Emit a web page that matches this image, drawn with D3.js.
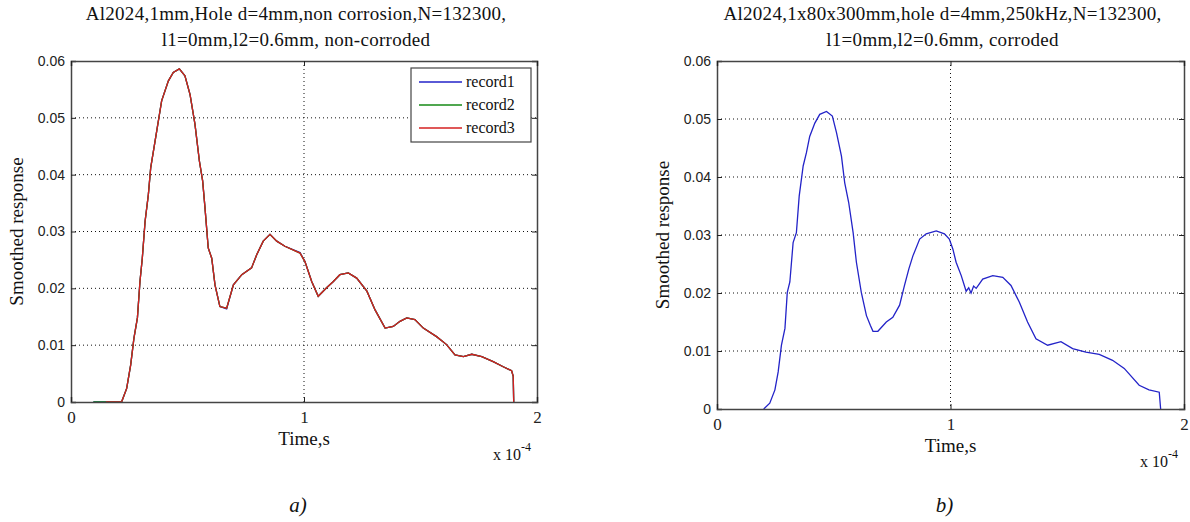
<!DOCTYPE html>
<html>
<head>
<meta charset="utf-8">
<script src="https://cdn.jsdelivr.net/npm/d3@7"></script>
<style>
  body { margin: 0; background: #fff; }
  svg { display: block; }
  .serif { font-family: "Liberation Serif", "Times New Roman", serif; fill: #111; }
  .ytick text { font-family: "Liberation Sans", Arial, sans-serif; font-size: 14px; fill: #222; }
  .xtick text { font-family: "Liberation Serif", serif; font-size: 17px; fill: #222; }
</style>
</head>
<body>
<div id="chart"></div>
<script>
// time axis in units of 1e-4 s
const yTicks = [0, 0.01, 0.02, 0.03, 0.04, 0.05, 0.06];
const xTicks = [0, 1, 2];
const recordNames = ["record1", "record2", "record3"];
const recordColours = ["#2323c8", "#168a16", "#d42020"];

// panel a) non-corroded, three records (practically on top of each other)
const timeA = [0.096, 0.15, 0.217, 0.239, 0.256, 0.27, 0.285, 0.296, 0.306, 0.318, 0.332, 0.342, 0.368, 0.389, 0.418, 0.439, 0.465, 0.489, 0.511, 0.532, 0.551, 0.565, 0.575, 0.589, 0.604, 0.618, 0.639, 0.668, 0.697, 0.733, 0.775, 0.797, 0.825, 0.854, 0.883, 0.918, 0.983, 1.004, 1.033, 1.061, 1.097, 1.126, 1.154, 1.19, 1.226, 1.27, 1.305, 1.348, 1.383, 1.412, 1.441, 1.476, 1.512, 1.569, 1.612, 1.648, 1.684, 1.72, 1.763, 1.812, 1.855, 1.891, 1.898, 1.9];
const record1 = [0, 0, 0, 0.0024, 0.0065, 0.0112, 0.0148, 0.0212, 0.0253, 0.0318, 0.0365, 0.0412, 0.0477, 0.053, 0.0565, 0.058, 0.0586, 0.0574, 0.0541, 0.0489, 0.0424, 0.0389, 0.0342, 0.0271, 0.0253, 0.0206, 0.0168, 0.0164, 0.0206, 0.0224, 0.0236, 0.0259, 0.0283, 0.0295, 0.0283, 0.0274, 0.0263, 0.0247, 0.0212, 0.0186, 0.0201, 0.0212, 0.0224, 0.0227, 0.0218, 0.0195, 0.0162, 0.013, 0.0133, 0.0142, 0.0148, 0.0145, 0.013, 0.0115, 0.0101, 0.0083, 0.008, 0.0084, 0.008, 0.0071, 0.0062, 0.0055, 0.0045, 0];
const record2 = [0, 0, 0, 0.0024, 0.0065, 0.0112, 0.0148, 0.0212, 0.0253, 0.0318, 0.0365, 0.0412, 0.0477, 0.053, 0.0565, 0.058, 0.0586, 0.0574, 0.0541, 0.0489, 0.0424, 0.0389, 0.0342, 0.0271, 0.0253, 0.0206, 0.0168, 0.0165, 0.0206, 0.0224, 0.0236, 0.0259, 0.0283, 0.0295, 0.0283, 0.0274, 0.0262, 0.0247, 0.0212, 0.0186, 0.0201, 0.0212, 0.0224, 0.0227, 0.0218, 0.0195, 0.0162, 0.013, 0.0133, 0.0142, 0.0148, 0.0145, 0.013, 0.0115, 0.0101, 0.0083, 0.008, 0.0084, 0.008, 0.0071, 0.0062, 0.0055, 0.0045, 0];
// record3 starts a little later than the other two
const record3 = [null, 0, 0, 0.0024, 0.0065, 0.0112, 0.0148, 0.0212, 0.0253, 0.0318, 0.0365, 0.0412, 0.0477, 0.053, 0.0565, 0.058, 0.0586, 0.0574, 0.0541, 0.0489, 0.0424, 0.0389, 0.0342, 0.0271, 0.0253, 0.0206, 0.0168, 0.0165, 0.0206, 0.0224, 0.0236, 0.0259, 0.0283, 0.0295, 0.0283, 0.0274, 0.0262, 0.0247, 0.0212, 0.0186, 0.0201, 0.0212, 0.0224, 0.0227, 0.0218, 0.0195, 0.0162, 0.013, 0.0133, 0.0142, 0.0148, 0.0145, 0.013, 0.0115, 0.0101, 0.0083, 0.008, 0.0084, 0.008, 0.0071, 0.0062, 0.0055, 0.0045, 0];

// panel b) corroded, one record
const timeB = [0.2, 0.226, 0.248, 0.262, 0.276, 0.291, 0.301, 0.312, 0.326, 0.34, 0.352, 0.369, 0.383, 0.397, 0.419, 0.44, 0.469, 0.494, 0.512, 0.533, 0.547, 0.564, 0.583, 0.597, 0.618, 0.64, 0.657, 0.668, 0.689, 0.725, 0.753, 0.782, 0.803, 0.822, 0.839, 0.868, 0.896, 0.939, 0.974, 0.995, 1.01, 1.024, 1.046, 1.067, 1.078, 1.088, 1.099, 1.11, 1.138, 1.181, 1.224, 1.259, 1.295, 1.33, 1.366, 1.416, 1.473, 1.523, 1.58, 1.637, 1.694, 1.744, 1.808, 1.85, 1.894, 1.9];
const corroded = [0, 0.001, 0.0033, 0.0064, 0.011, 0.0139, 0.0201, 0.0219, 0.0287, 0.0304, 0.0367, 0.0419, 0.0442, 0.047, 0.0493, 0.0508, 0.0513, 0.0505, 0.0476, 0.0436, 0.039, 0.0356, 0.0304, 0.0253, 0.0201, 0.0161, 0.0144, 0.0134, 0.0134, 0.015, 0.0158, 0.0179, 0.0213, 0.0242, 0.0264, 0.0293, 0.0302, 0.0307, 0.0302, 0.0293, 0.0276, 0.0253, 0.023, 0.0203, 0.0209, 0.02, 0.0212, 0.0208, 0.0224, 0.023, 0.0227, 0.0213, 0.0184, 0.015, 0.0121, 0.011, 0.0116, 0.0104, 0.0098, 0.0094, 0.0084, 0.007, 0.0041, 0.0033, 0.0029, 0];

const width = 1190, height = 522;
const svg = d3.select("#chart").append("svg")
    .attr("width", width)
    .attr("height", height);

// draws one MATLAB-style panel
function drawPanel(p) {
    const x = d3.scaleLinear().domain([0, 2]).range([p.left, p.right]);
    const y = d3.scaleLinear().domain([0, 0.06]).range([p.bottom, p.top]);
    const g = svg.append("g");

    // dotted grid
    g.selectAll(".gx").data(xTicks.slice(1, -1)).enter().append("line")
        .attr("x1", d => x(d)).attr("x2", d => x(d))
        .attr("y1", p.top).attr("y2", p.bottom)
        .attr("stroke", "#111").attr("stroke-width", 1).attr("stroke-dasharray", "1,3");
    g.selectAll(".gy").data(yTicks.slice(1, -1)).enter().append("line")
        .attr("x1", p.left).attr("x2", p.right)
        .attr("y1", d => y(d)).attr("y2", d => y(d))
        .attr("stroke", "#111").attr("stroke-width", 1).attr("stroke-dasharray", "1,3");

    // curves
    const line = d3.line()
        .defined(d => d[1] !== null)
        .x(d => x(d[0])).y(d => y(d[1]));
    p.series.forEach(s => {
        g.append("path")
            .datum(s.time.map((t, i) => [t, s.values[i]]))
            .attr("fill", "none")
            .attr("stroke", s.colour)
            .attr("stroke-width", 1.3)
            .attr("d", line);
    });

    // axes, ticks pointing inward on all four sides
    const yFmt = d => d === 0 ? "0" : d3.format(".2f")(d);
    g.append("g").attr("class", "ytick")
        .attr("transform", `translate(${p.left},0)`)
        .call(d3.axisLeft(y).tickValues(yTicks).tickSize(-5).tickPadding(6).tickFormat(yFmt));
    g.append("g")
        .attr("transform", `translate(${p.right},0)`)
        .call(d3.axisRight(y).tickValues(yTicks).tickSize(-5).tickFormat(""));
    g.append("g").attr("class", "xtick")
        .attr("transform", `translate(0,${p.bottom})`)
        .call(d3.axisBottom(x).tickValues(xTicks).tickSize(-5).tickPadding(9).tickFormat(d3.format("d")));
    g.append("g")
        .attr("transform", `translate(0,${p.top})`)
        .call(d3.axisTop(x).tickValues(xTicks).tickSize(-5).tickFormat(""));
    g.selectAll(".domain").attr("stroke", "#444").attr("stroke-width", 1.5);
    g.selectAll(".tick line").attr("stroke", "#222");

    const cx = (p.left + p.right) / 2;

    // title
    const title = g.append("text").attr("class", "serif")
        .attr("text-anchor", "middle").attr("font-size", 19).attr("letter-spacing", 0.3);
    title.append("tspan").attr("x", cx + p.titleShift).attr("y", 20).text(p.title[0]);
    title.append("tspan").attr("x", cx + p.titleShift).attr("y", 46).text(p.title[1]);

    // axis labels
    g.append("text").attr("class", "serif")
        .attr("x", cx).attr("y", p.bottom + 43)
        .attr("text-anchor", "middle").attr("font-size", 19)
        .text("Time,s");
    const exp = g.append("text").attr("class", "serif")
        .attr("x", p.right - 44).attr("y", p.bottom + 58)
        .attr("font-size", 16);
    exp.append("tspan").text("x 10");
    exp.append("tspan").attr("dy", -9).attr("font-size", 12).text("-4");

    g.append("text").attr("class", "serif")
        .attr("transform", `translate(${p.left - 48},${(p.top + p.bottom) / 2}) rotate(-90)`)
        .attr("text-anchor", "middle").attr("font-size", 19)
        .text("Smoothed response");

    // panel letter
    g.append("text").attr("class", "serif")
        .attr("x", cx - 6).attr("y", 512)
        .attr("text-anchor", "middle").attr("font-size", 21).attr("font-style", "italic")
        .text(p.letter);

    // legend
    if (p.legend) {
        const lx = p.right - 126, ly = p.top + 7;
        const lg = g.append("g").attr("transform", `translate(${lx},${ly})`);
        lg.append("rect").attr("width", 120).attr("height", 74)
            .attr("fill", "#fff").attr("stroke", "#444").attr("stroke-width", 1.2);
        p.series.forEach((s, i) => {
            const ry = 14 + i * 23;
            lg.append("line").attr("x1", 8).attr("x2", 51)
                .attr("y1", ry).attr("y2", ry)
                .attr("stroke", s.colour).attr("stroke-width", 1.3);
            lg.append("text").attr("class", "serif")
                .attr("x", 55).attr("y", ry + 5).attr("font-size", 16)
                .text(s.name);
        });
    }
}

drawPanel({
    left: 71, right: 537, top: 61, bottom: 402,
    titleShift: -8,
    title: ["Al2024,1mm,Hole d=4mm,non corrosion,N=132300,", "l1=0mm,l2=0.6mm, non-corroded"],
    letter: "a)",
    legend: true,
    series: [
        { name: recordNames[0], colour: recordColours[0], time: timeA, values: record1 },
        { name: recordNames[1], colour: recordColours[1], time: timeA, values: record2 },
        { name: recordNames[2], colour: recordColours[2], time: timeA, values: record3 }
    ]
});

drawPanel({
    left: 717, right: 1184, top: 61, bottom: 409,
    titleShift: -8,
    title: ["Al2024,1x80x300mm,hole d=4mm,250kHz,N=132300,", "l1=0mm,l2=0.6mm, corroded"],
    letter: "b)",
    legend: false,
    series: [
        { name: "corroded", colour: recordColours[0], time: timeB, values: corroded }
    ]
});
</script>
</body>
</html>
